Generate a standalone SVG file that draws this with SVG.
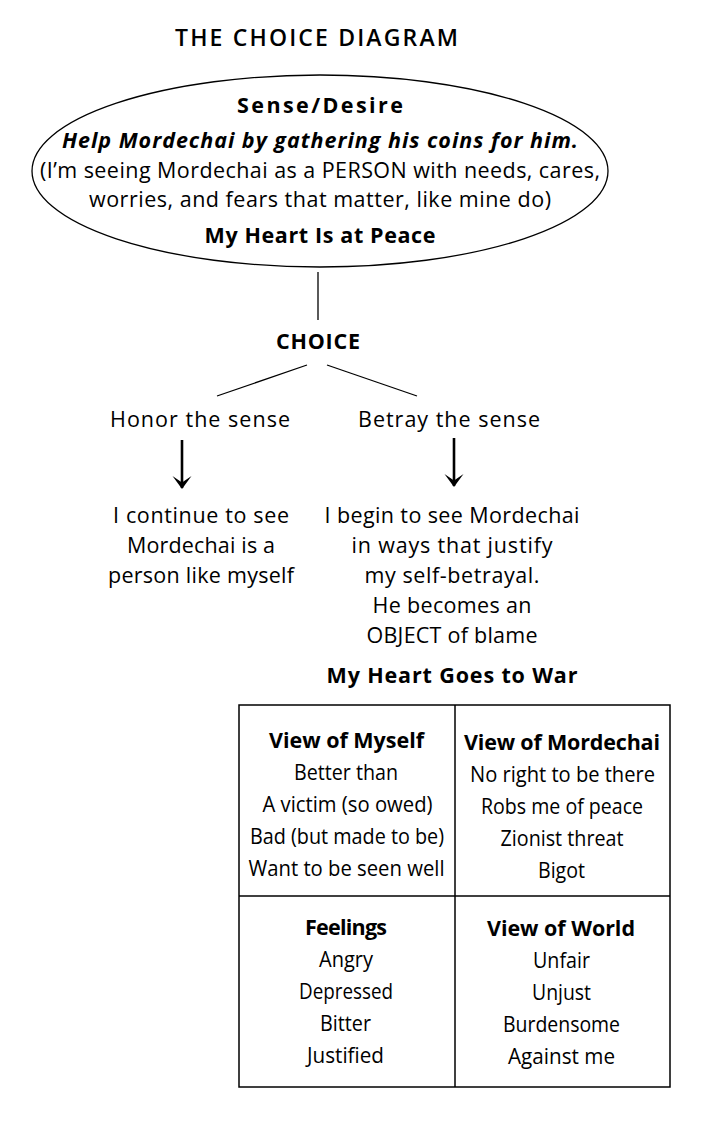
<svg xmlns="http://www.w3.org/2000/svg" width="716" height="1132" viewBox="0 0 716 1132">
<style>
text{font-family:"Open Sans","Noto Sans","Liberation Sans",sans-serif;fill:#000;text-anchor:middle;font-size:21.5px}
.b{font-weight:bold}
.bi{font-weight:bold;font-style:italic}
.t{font-size:23px;font-weight:600}
.ln{stroke:#000;stroke-width:1.3;fill:none}
.ar{stroke:#000;stroke-width:2.6;fill:none}
.box{stroke:#000;stroke-width:1.5;fill:none}
</style>
<defs>
<marker id="ah" viewBox="0 0 14 20" refX="12" refY="10" markerWidth="14" markerHeight="20" markerUnits="userSpaceOnUse" orient="auto">
<path d="M0,0.5 L13,10 L0,19.5 L6.5,10 Z" fill="#000"/>
</marker>
</defs>
<rect width="716" height="1132" fill="#fff"/>
<text class="t" x="316.5" y="46" textLength="283">THE CHOICE DIAGRAM</text>
<g id="sense">
<ellipse cx="320" cy="171" rx="288" ry="96" class="ln"/>
<text class="b" x="320" y="113" textLength="166">Sense/Desire</text>
<text class="bi" x="320" y="148" textLength="516">Help Mordechai by gathering his coins for him.</text>
<text x="320" y="178" textLength="560">(I’m seeing Mordechai as a PERSON with needs, cares,</text>
<text x="320" y="207" textLength="462">worries, and fears that matter, like mine do)</text>
<text class="b" x="320" y="243" textLength="231">My Heart Is at Peace</text>
</g>
<g id="choice">
<text class="b" x="318" y="349" textLength="84">CHOICE</text>
</g>
<g id="honor">
<text x="200" y="427" textLength="180">Honor the sense</text>
</g>
<g id="betray">
<text x="449" y="427" textLength="182">Betray the sense</text>
</g>
<g id="honor-result">
<text x="201" y="523" textLength="176">I continue to see</text>
<text x="201" y="553" textLength="148">Mordechai is a</text>
<text x="201" y="583" textLength="186">person like myself</text>
</g>
<g id="betray-result">
<text x="452" y="523" textLength="255">I begin to see Mordechai</text>
<text x="452" y="553" textLength="201">in ways that justify</text>
<text x="452" y="583" textLength="175">my self-betrayal.</text>
<text x="452" y="613" textLength="159">He becomes an</text>
<text x="452" y="643" textLength="171">OBJECT of blame</text>
<text class="b" x="452" y="683" textLength="251">My Heart Goes to War</text>
</g>
<g id="connectors">
<line class="ln" x1="318" y1="272" x2="318" y2="320"/>
<line class="ln" x1="217" y1="396" x2="307" y2="365"/>
<line class="ln" x1="327" y1="365" x2="417" y2="396"/>
<line class="ar" x1="182" y1="440" x2="182" y2="488" marker-end="url(#ah)"/>
<line class="ar" x1="454" y1="438" x2="454" y2="486" marker-end="url(#ah)"/>
</g>
<g id="war-table">
<rect class="box" x="239" y="705" width="431" height="382"/>
<line class="box" x1="455" y1="705" x2="455" y2="1087"/>
<line class="box" x1="239" y1="896" x2="670" y2="896"/>
</g>
<g id="view-myself">
<text class="b" x="346.5" y="748" textLength="155">View of Myself</text>
<text x="346" y="780" textLength="104" lengthAdjust="spacingAndGlyphs">Better than</text>
<text x="347.5" y="812" textLength="170" lengthAdjust="spacingAndGlyphs">A victim (so owed)</text>
<text x="347" y="844" textLength="194" lengthAdjust="spacingAndGlyphs">Bad (but made to be)</text>
<text x="346.5" y="876" textLength="196" lengthAdjust="spacingAndGlyphs">Want to be seen well</text>
</g>
<g id="view-mordechai">
<text class="b" x="562" y="750" textLength="196">View of Mordechai</text>
<text x="562.5" y="782" textLength="185" lengthAdjust="spacingAndGlyphs">No right to be there</text>
<text x="562" y="814" textLength="162" lengthAdjust="spacingAndGlyphs">Robs me of peace</text>
<text x="562" y="846" textLength="123" lengthAdjust="spacingAndGlyphs">Zionist threat</text>
<text x="561.5" y="878" textLength="47" lengthAdjust="spacingAndGlyphs">Bigot</text>
</g>
<g id="feelings">
<text class="b" x="346" y="935" textLength="82">Feelings</text>
<text x="346" y="967" textLength="54" lengthAdjust="spacingAndGlyphs">Angry</text>
<text x="346" y="999" textLength="94" lengthAdjust="spacingAndGlyphs">Depressed</text>
<text x="345.5" y="1031" textLength="51" lengthAdjust="spacingAndGlyphs">Bitter</text>
<text x="345.5" y="1063" textLength="77" lengthAdjust="spacingAndGlyphs">Justified</text>
</g>
<g id="view-world">
<text class="b" x="561" y="936" textLength="148">View of World</text>
<text x="561.5" y="968" textLength="57" lengthAdjust="spacingAndGlyphs">Unfair</text>
<text x="561.5" y="1000" textLength="59" lengthAdjust="spacingAndGlyphs">Unjust</text>
<text x="561.5" y="1032" textLength="117" lengthAdjust="spacingAndGlyphs">Burdensome</text>
<text x="561.5" y="1064" textLength="107" lengthAdjust="spacingAndGlyphs">Against me</text>
</g>
</svg>
